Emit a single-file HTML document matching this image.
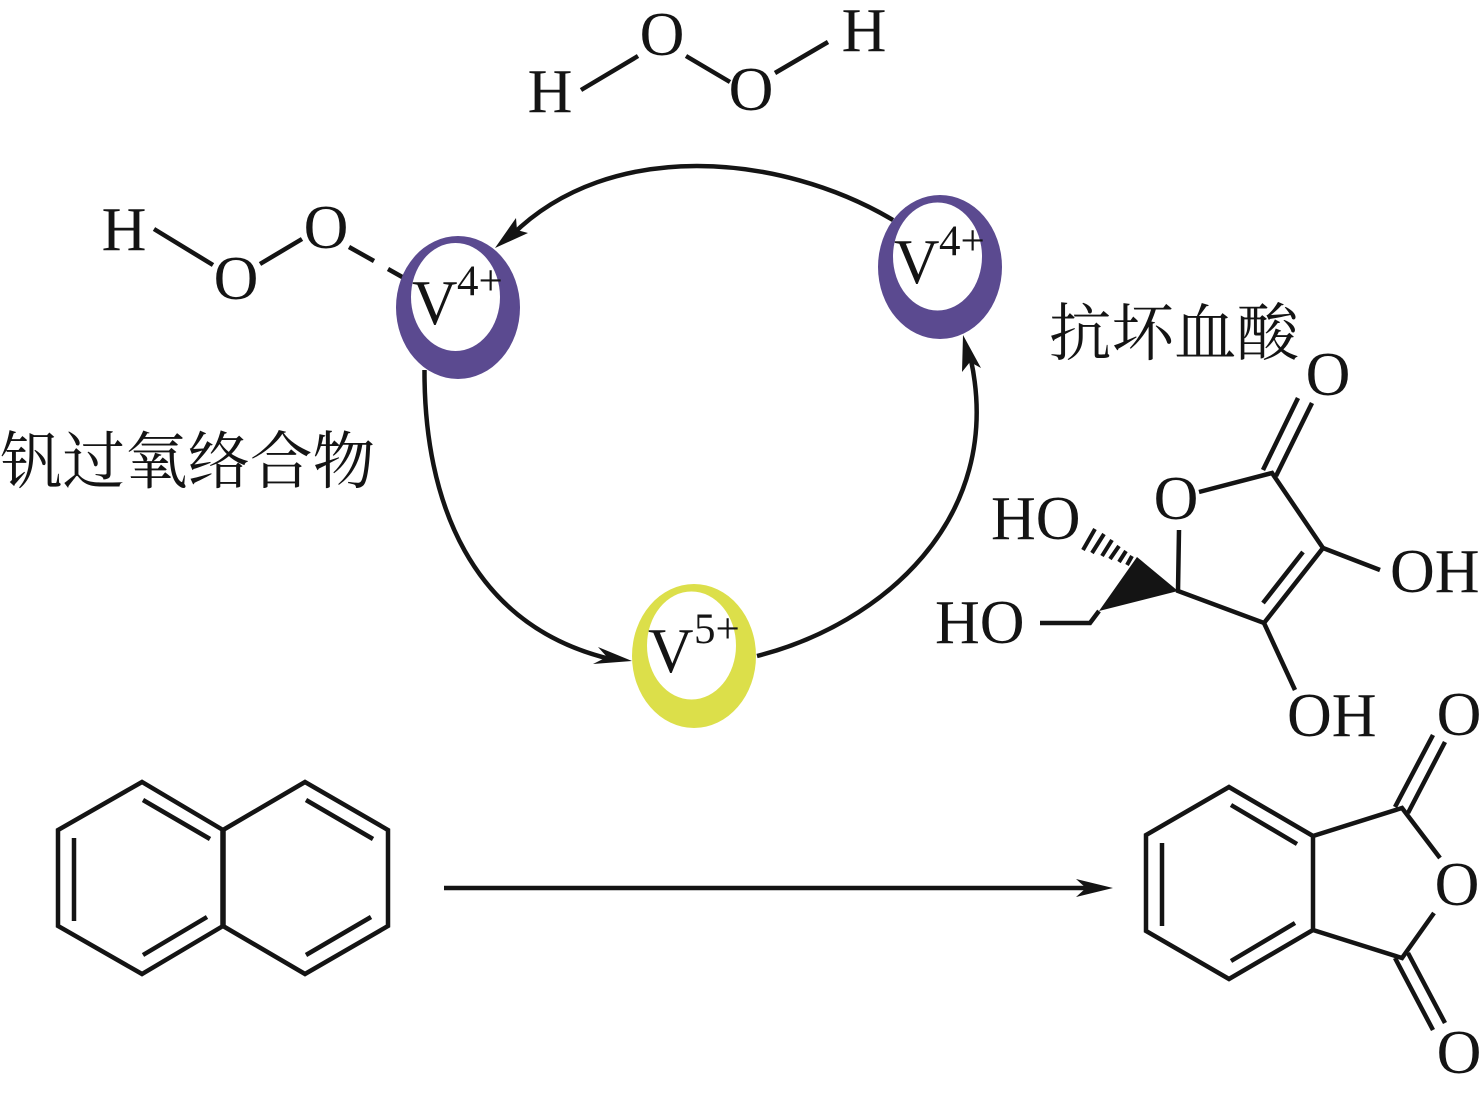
<!DOCTYPE html>
<html lang="zh">
<head>
<meta charset="utf-8">
<title>Diagram</title>
<style>
html,body{margin:0;padding:0;background:#fff;width:1483px;height:1095px;overflow:hidden}
svg{display:block}
text{font-family:"Liberation Serif","Noto Serif CJK SC",serif;fill:#141414}
.a{font-size:62px}
.v{font-size:63px}
.s{font-size:43px}
.c{font-size:62.5px;font-family:"Liberation Serif","Noto Serif CJK SC",serif}
.m{text-anchor:middle}
.b{fill:none;stroke:#141414;stroke-width:4.5;stroke-linejoin:miter;stroke-linecap:butt}
.h{fill:#141414}
</style>
</head>
<body>
<svg width="1483" height="1095" viewBox="0 0 1483 1095" xmlns="http://www.w3.org/2000/svg">
<rect width="1483" height="1095" fill="#fff"/>

<!-- H2O2 top -->
<g class="b">
<path d="M581 90L638 56M686 56L730 82M775 73L828 42"/>
<!-- peroxo -->
<path d="M154 229L213 265M260 264L302 239M349 247L374 261M388 269L404 278"/>
<!-- cycle curves -->
<path d="M893 220C780 153 610 138 512 235"/>
<path d="M424.5 370C424 500 470 625 610 659"/>
<path d="M757 656C880 625 1005 520 971 360"/>
<!-- main arrow -->
<path d="M444 888H1090"/>
<!-- naphthalene -->
<path d="M223 830L142 782L58 830V926L142 974L223 926"/>
<path d="M223 830L305 782L388 830V926L305 974L223 926"/>
<path d="M223 828V928" style="stroke-width:5.5"/>
<path d="M74 838V921M143 800L210 839M143 955L207 917M306 800L373 839M306 955L371 917"/>
<!-- phthalic anhydride -->
<path d="M1313 836L1229 787L1146 835V931L1229 979L1313 930Z"/>
<path d="M1162 843V926M1231 805L1297 844M1231 961L1295 923"/>
<path d="M1313 836L1402 808L1440 858M1313 930L1402 958L1434 913"/>
<path d="M1395 807L1433 735M1408 813L1445 742M1395 958L1433 1030M1408 953L1445 1023"/>
<!-- ascorbic acid -->
<path d="M1179 530L1178 591L1264 623L1323 548L1272 473L1199 492"/>
<path d="M1263 603L1303 552M1263 470L1298 398M1276 476L1312 403M1323 548L1380 570M1264 623L1295 690M1099 611L1090 623H1040"/>
<path d="M1095 529L1083 550M1104 534L1092 553M1112 540L1102 556M1119 546L1110 559M1126 551L1119 562M1132 556L1127 565" style="stroke-width:4"/>
</g>
<polygon class="h" points="1178,591 1137,557 1099,611"/>

<!-- arrowheads -->
<polygon class="h" points="495,248 516,218 517,230 528,233"/>
<polygon class="h" points="632,661 598,647 607,657 593,664"/>
<polygon class="h" points="963,335 962,372 970,362 981,368"/>
<polygon class="h" points="1113,888 1076,879 1086,888 1076,897"/>

<!-- rings -->
<ellipse cx="458" cy="307.5" rx="62" ry="71.5" fill="#5b4a90"/>
<ellipse cx="455.5" cy="297" rx="44.5" ry="54" fill="#fff"/>
<ellipse cx="940" cy="267" rx="62" ry="72" fill="#5b4a90"/>
<ellipse cx="937.5" cy="256.5" rx="44.5" ry="54" fill="#fff"/>
<ellipse cx="694" cy="656" rx="62" ry="72" fill="#dcdf4a"/>
<ellipse cx="691.5" cy="645.5" rx="44.5" ry="54" fill="#fff"/>

<!-- V labels -->
<text class="v" x="412" y="324">V</text><text class="s" x="457" y="295">4+</text>
<text class="v" x="894" y="283">V</text><text class="s" x="939" y="255">4+</text>
<text class="v" x="648" y="672">V</text><text class="s" x="694" y="643">5+</text>

<!-- atoms -->
<text class="a m" x="550" y="112">H</text>
<text class="a m" x="662" y="55">O</text>
<text class="a m" x="751" y="110">O</text>
<text class="a m" x="864" y="51">H</text>
<text class="a m" x="124" y="250">H</text>
<text class="a m" x="326" y="248">O</text>
<text class="a m" x="236" y="299">O</text>
<text class="a m" x="1328" y="395">O</text>
<text class="a m" x="1176" y="519">O</text>
<text class="a" x="991" y="539">HO</text>
<text class="a" x="1390" y="592">OH</text>
<text class="a" x="935" y="643">HO</text>
<text class="a" x="1287" y="736">OH</text>
<text class="a m" x="1459" y="735">O</text>
<text class="a m" x="1457" y="905">O</text>
<text class="a m" x="1459" y="1073">O</text>

<!-- Chinese labels -->
<text class="c" x="0" y="483">钒过氧络合物</text>
<text class="c" x="1049" y="355">抗坏血酸</text>
</svg>
</body>
</html>
